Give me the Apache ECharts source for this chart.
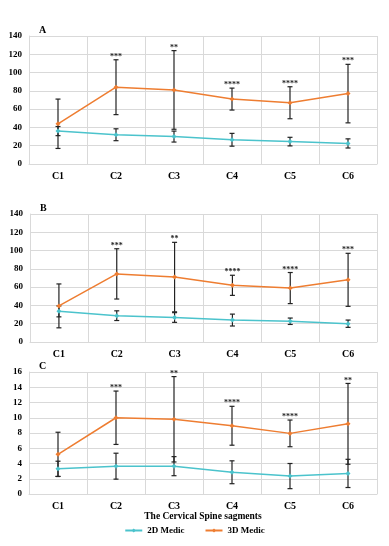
<!DOCTYPE html>
<html>
<head>
<meta charset="utf-8">
<script src="https://cdn.jsdelivr.net/npm/echarts@6/dist/echarts.min.js"></script>
<style>
  html, body { margin: 0; padding: 0; background: #fff; }
  #chart { width: 389px; height: 546px; }
</style>
</head>
<body>
<div id="chart"></div>
<script>
const categories = ["C1", "C2", "C3", "C4", "C5", "C6"];

// panel A
const meanA3d = [44, 84, 81, 71, 67, 77];
const sdA3d = [27, 30, 43, 12, 17.5, 32];
const meanA2d = [36, 32, 30, 26.5, 24.5, 22.5];
const sdA2d = [5, 6.5, 6, 7, 4.7, 5];
const starsA = ["", "***", "**", "****", "****", "***"];

// panel B
const meanB3d = [39.5, 74.5, 71, 62, 59, 68];
const sdB3d = [24, 27.5, 38, 11, 17, 29];
const meanB2d = [33.5, 28.8, 26.8, 24, 22.7, 20];
const sdB2d = [6, 5.3, 5.3, 6.5, 3.5, 4];
const starsB = ["", "***", "**", "****", "****", "***"];

// panel C
const meanC3d = [5.2, 10, 9.8, 8.95, 7.95, 9.2];
const sdC3d = [2.9, 3.5, 5.6, 2.55, 1.75, 5.3];
const meanC2d = [3.3, 3.65, 3.65, 2.85, 2.35, 2.7];
const sdC2d = [1, 1.7, 1.25, 1.5, 1.65, 1.85];
const starsC = ["", "***", "**", "****", "****", "**"];

const panelLetters = ["A", "B", "C"];
const yMax = [140, 140, 16];
const yStep = [20, 20, 2];

const color2d = "#4bc3cc";
const color3d = "#ee7d31";
const font = "Liberation Serif";

const panels = [
  { m3: meanA3d, s3: sdA3d, m2: meanA2d, s2: sdA2d, stars: starsA },
  { m3: meanB3d, s3: sdB3d, m2: meanB2d, s2: sdB2d, stars: starsB },
  { m3: meanC3d, s3: sdC3d, m2: meanC2d, s2: sdC2d, stars: starsC },
];

const grids = [
  { left: 29, right: 12, top: 36, height: 128 },
  { left: 30, right: 12, top: 214, height: 128 },
  { left: 29, right: 12, top: 372, height: 122 },
];

function errorData(mean, sd, stars) {
  return mean.map((m, i) => [i, m - sd[i], m + sd[i], stars ? stars[i] : ""]);
}

// vertical error bar with caps, plus significance stars on top
function renderErr(params, api) {
  const x = api.value(0);
  const lo = api.coord([x, api.value(1)]);
  const hi = api.coord([x, api.value(2)]);
  const cap = 2.5;
  const style = { stroke: "#222", lineWidth: 1.2 };
  const children = [
    { type: "line", shape: { x1: lo[0], y1: lo[1], x2: hi[0], y2: hi[1] }, style },
    { type: "line", shape: { x1: lo[0] - cap, y1: lo[1], x2: lo[0] + cap, y2: lo[1] }, style },
    { type: "line", shape: { x1: hi[0] - cap, y1: hi[1], x2: hi[0] + cap, y2: hi[1] }, style },
  ];
  const star = api.value(3);
  if (star) {
    children.push({
      type: "text",
      style: {
        text: star, x: hi[0], y: hi[1] + 1,
        align: "center", verticalAlign: "bottom",
        fill: "#222", font: "bold 8px " + font,
      },
    });
  }
  return { type: "group", children };
}

const xAxis = [], yAxis = [], series = [], title = [];
panels.forEach((p, k) => {
  xAxis.push({
    gridIndex: k,
    type: "category",
    data: categories,
    axisLine: { lineStyle: { color: "#d9d9d9" } },
    axisTick: { show: false },
    splitLine: { show: true, lineStyle: { color: "#d9d9d9" } },
    axisLabel: { color: "#000", fontFamily: font, fontWeight: "bold", fontSize: 10, margin: 7 },
    name: k === 2 ? "The Cervical Spine sagments" : "",
    nameLocation: "middle",
    nameGap: 18,
    nameTextStyle: { color: "#000", fontFamily: font, fontWeight: "bold", fontSize: 9.5 },
  });
  yAxis.push({
    gridIndex: k,
    type: "value",
    min: 0,
    max: yMax[k],
    interval: yStep[k],
    axisLine: { show: true, lineStyle: { color: "#d9d9d9" } },
    axisTick: { show: false },
    splitLine: { lineStyle: { color: "#d9d9d9" } },
    axisLabel: { color: "#000", fontFamily: font, fontWeight: "bold", fontSize: 9, margin: 7 },
  });
  title.push({
    text: panelLetters[k],
    left: grids[k].left + 5,
    top: grids[k].top - 16,
    textStyle: { color: "#000", fontFamily: font, fontWeight: "bold", fontSize: 10 },
  });
  series.push(
    {
      type: "custom", xAxisIndex: k, yAxisIndex: k, z: 1,
      renderItem: renderErr, data: errorData(p.m2, p.s2), silent: true,
    },
    {
      type: "custom", xAxisIndex: k, yAxisIndex: k, z: 1,
      renderItem: renderErr, data: errorData(p.m3, p.s3, p.stars), silent: true,
    },
    {
      name: "2D Medic", type: "line", xAxisIndex: k, yAxisIndex: k, z: 3,
      data: p.m2, color: color2d, symbol: "diamond", symbolSize: 5,
      lineStyle: { width: 1.5 }, animation: false,
    },
    {
      name: "3D Medic", type: "line", xAxisIndex: k, yAxisIndex: k, z: 3,
      data: p.m3, color: color3d, symbol: "diamond", symbolSize: 5,
      lineStyle: { width: 1.5 }, animation: false,
    }
  );
});

const chart = echarts.init(document.getElementById("chart"));
chart.setOption({
  animation: false,
  title,
  grid: grids,
  xAxis,
  yAxis,
  legend: {
    data: ["2D Medic", "3D Medic"],
    top: 526,
    left: "center",
    padding: 0,
    itemWidth: 17,
    itemHeight: 5,
    itemGap: 20,
    textStyle: { color: "#000", fontFamily: font, fontWeight: "bold", fontSize: 9 },
  },
  series,
});
</script>
</body>
</html>
